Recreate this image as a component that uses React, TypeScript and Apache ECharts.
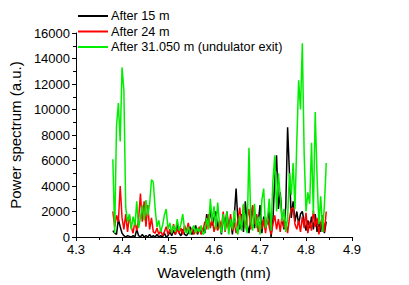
import React, { useEffect, useRef } from "react";
import * as echarts from "echarts";

const wavelength = [
  4.380, 4.384, 4.388, 4.392, 4.396, 4.400, 4.404, 4.408, 4.412, 4.416,
  4.420, 4.424, 4.428, 4.432, 4.436, 4.440, 4.444, 4.448, 4.452, 4.456,
  4.460, 4.464, 4.468, 4.472, 4.476, 4.480, 4.484, 4.488, 4.492, 4.496,
  4.500, 4.504, 4.508, 4.512, 4.516, 4.520, 4.524, 4.528, 4.532, 4.536,
  4.540, 4.544, 4.548, 4.552, 4.556, 4.560, 4.564, 4.568, 4.572, 4.576,
  4.580, 4.584, 4.588, 4.592, 4.596, 4.600, 4.604, 4.608, 4.612, 4.616,
  4.620, 4.624, 4.628, 4.632, 4.636, 4.640, 4.644, 4.648, 4.652, 4.656,
  4.660, 4.664, 4.668, 4.672, 4.676, 4.680, 4.684, 4.688, 4.692, 4.696,
  4.700, 4.704, 4.708, 4.712, 4.716, 4.720, 4.724, 4.728, 4.732, 4.736,
  4.740, 4.744, 4.748, 4.752, 4.756, 4.760, 4.764, 4.768, 4.772, 4.776,
  4.780, 4.784, 4.788, 4.792, 4.796, 4.800, 4.804, 4.808, 4.812, 4.816,
  4.820, 4.824, 4.828, 4.832, 4.836, 4.840, 4.844,
];

const after15 = [
  500, 300, 200, 1400, 800, 300, 100, 0, 100, 50,
  0, 100, 0, 600, 100, 0, 200, 0, 100, 0,
  200, 0, 100, 0, 200, 0, 100, 0, 300, 0,
  100, 400, 100, 500, 200, 1100, 300, 100, 600, 200,
  100, 300, 800, 200, 500, 900, 200, 600, 300, 700,
  300, 1800, 800, 2300, 900, 1500, 2000, 600, 1200, 200,
  1600, 900, 2000, 700, 1300, 200, 1600, 3800, 1200, 600,
  1800, 400, 2800, 1000, 300, 1400, 2400, 700, 1800, 1100,
  2500, 300, 1600, 700, 1200, 2000, 0, 1300, 4500, 6400,
  2200, 3500, 1400, 600, 2400, 8600, 5000, 1500, 2800, 1200,
  2000, 1000, 1800, 2000, 1200, 500, 1300, 700, 1600, 600,
  1800, 400, 1200, 400, 1700, 300, 1200,
];

const after24 = [
  2000, 800, 1700, 1200, 4000, 1500, 600, 1800, 400, 1700,
  800, 300, 1200, 500, 1400, 3400, 1200, 2800, 800, 2500,
  600, 1500, 400, 300, 700, 200, 500, 100, 400, 800,
  200, 600, 300, 1000, 200, 600, 300, 700, 200, 900,
  400, 1100, 300, 700, 200, 500, 300, 800, 200, 500,
  1200, 600, 1800, 700, 1500, 400, 1000, 500, 1300, 700,
  2000, 400, 1200, 600, 1800, 500, 1100, 300, 1400, 2300,
  900, 2500, 700, 1500, 2200, 600, 2500, 1000, 1800, 400,
  1200, 600, 1400, 300, 1600, 800, 200, 1000, 1700, 600,
  1400, 400, 1800, 700, 1200, 300, 1500, 2200, 2300, 1000,
  600, 1300, 400, 1600, 700, 1900, 300, 1200, 500, 2100,
  800, 1500, 200, 1100, 1700, 400, 2000,
];

const after31 = [
  6100, 300, 8700, 10500, 7500, 13300, 11500, 2300, 1200, 1800,
  600, 1600, 900, 2800, 700, 1500, 2500, 1300, 2900, 1700,
  2600, 4500, 4300, 2200, 800, 1300, 400, 900, 1700, 2200,
  600, 1100, 300, 900, 400, 1400, 500, 1000, 1800, 600,
  300, 800, 200, 600, 900, 300, 700, 400, 900, 200,
  400, 1500, 600, 3000, 1200, 2400, 600, 2700, 1000, 300,
  1800, 500, 2000, 200, 1400, 600, 2100, 800, 200, 1700,
  500, 2600, 900, 300, 7000, 1200, 500, 2600, 700, 1600,
  200, 2900, 3800, 700, 1300, 3000, 500, 4400, 6400, 2000,
  5000, 3200, 1200, 2200, 400, 1500, 5000, 3300, 5800, 2200,
  7500, 12300, 10000, 15200, 6500, 2000, 3500, 2600, 7400, 1800,
  9800, 4800, 1000, 3200, 400, 2500, 5800,
];

const seriesNames = ["After 15 m", "After 24 m", "After 31.050 m (undulator exit)"];
const seriesColors = ["#000000", "#ff0000", "#00ee00"];
const xTicks = [4.3, 4.4, 4.5, 4.6, 4.7, 4.8, 4.9];

export default function App() {
  const ref = useRef<HTMLDivElement>(null);
  useEffect(() => {
    if (!ref.current) return;
    const chart = echarts.init(ref.current, null, { renderer: "svg" });
    const values = [after15, after24, after31];
    const font = "'Liberation Sans', Arial, sans-serif";
    chart.setOption({
      animation: false,
      textStyle: { fontFamily: font },
      grid: { left: 73, right: 57, top: 33, bottom: 48, containLabel: false },
      legend: {
        orient: "vertical",
        left: 73,
        top: 4,
        itemWidth: 30,
        itemHeight: 2,
        itemGap: 1.5,
        icon: "rect",
        data: seriesNames,
        textStyle: { fontSize: 12.7, color: "#000", fontFamily: font, lineHeight: 14, padding: [0, 0, 0, -2] },
      },
      xAxis: {
        type: "value",
        min: xTicks[0],
        max: xTicks[xTicks.length - 1],
        interval: 0.1,
        name: "Wavelength (nm)",
        nameLocation: "middle",
        nameGap: 28,
        nameTextStyle: { fontSize: 15, color: "#000", fontFamily: font },
        axisLine: { show: true, onZero: false, lineStyle: { color: "#000", width: 1 } },
        axisTick: { show: true, length: 4, lineStyle: { color: "#000" } },
        minorTick: { show: true, splitNumber: 2, length: 3, lineStyle: { color: "#000" } },
        axisLabel: { fontSize: 13, color: "#000", margin: 6, formatter: (v: number) => v.toFixed(1) },
        splitLine: { show: false },
      },
      yAxis: {
        type: "value",
        min: 0,
        max: 16000,
        interval: 2000,
        name: "Power spectrum (a.u.)",
        nameLocation: "middle",
        nameGap: 51,
        nameTextStyle: { fontSize: 15, color: "#000", fontFamily: font },
        axisLine: { show: true, lineStyle: { color: "#000", width: 1 } },
        axisTick: { show: true, length: 4, lineStyle: { color: "#000" } },
        minorTick: { show: true, splitNumber: 2, length: 3, lineStyle: { color: "#000" } },
        axisLabel: { fontSize: 13, color: "#000", margin: 6, formatter: (v: number) => String(v) },
        splitLine: { show: false },
      },
      series: seriesNames.map((name, i) => ({
        name,
        type: "line",
        showSymbol: false,
        symbol: "none",
        data: wavelength.map((w, j) => [w, values[i][j]]),
        lineStyle: { color: seriesColors[i], width: 1.5 },
        itemStyle: { color: seriesColors[i] },
        z: 2 + i,
      })),
    });
    return () => chart.dispose();
  }, []);
  return <div ref={ref} style={{ width: 409, height: 285, position: "absolute", left: 0, top: 0 }} />;
}
